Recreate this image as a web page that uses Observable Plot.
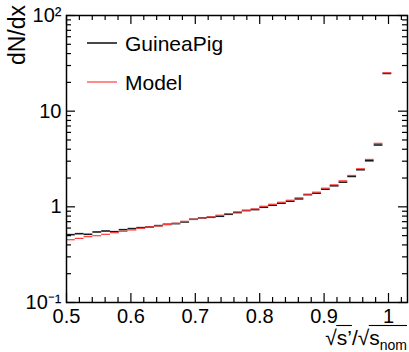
<!DOCTYPE html>
<html><head><meta charset="utf-8">
<script src="https://cdn.jsdelivr.net/npm/d3@7"></script>
<script src="https://cdn.jsdelivr.net/npm/@observablehq/plot@0.6"></script>
<style>
body{margin:0;background:#fff;}
#chart{width:409px;height:352px;}
</style></head><body><div id="chart"></div>
<script>
// histogram binning (lower edge of first bin, bin width)
const binStart = 0.5;
const binWidth = 0.01365;
// dN/dx per bin
const guineaPig = [0.512, 0.524, 0.516, 0.546, 0.559, 0.550, 0.577, 0.592, 0.606, 0.616,
  0.636, 0.657, 0.668, 0.695, 0.741, 0.766, 0.778, 0.797, 0.836, 0.871,
  0.914, 0.936, 0.990, 1.039, 1.091, 1.145, 1.211, 1.345, 1.390, 1.53,
  1.659, 1.811, 2.078, 2.442, 3.03, 4.43, 24.8];
const model = [0.453, 0.468, 0.488, 0.499, 0.516, 0.537, 0.555, 0.573, 0.596, 0.616,
  0.631, 0.652, 0.673, 0.706, 0.741, 0.766, 0.784, 0.817, 0.850, 0.885,
  0.921, 0.951, 1.014, 1.064, 1.117, 1.172, 1.241, 1.334, 1.423, 1.567,
  1.698, 1.871, 2.128, 2.500, 3.13, 4.61, 25.2];
const seriesNames = ["GuineaPig", "Model"];
const seriesColors = ["#1a1a1a", "#ff3b3b"];
const xMajor = [0.5, 0.6, 0.7, 0.8, 0.9, 1.0];
const xTickLabels = ["0.5", "0.6", "0.7", "0.8", "0.9", "1"];
const xMinor = [0.52, 0.54, 0.56, 0.58, 0.62, 0.64, 0.66, 0.68, 0.72, 0.74, 0.76, 0.78,
  0.82, 0.84, 0.86, 0.88, 0.92, 0.94, 0.96, 0.98, 1.02];
const yMajor = [0.1, 1, 10, 100];
const yTickLabels = ["10⁻¹", "1", "10", "10²"];
const yMinor = [0.2, 0.3, 0.4, 0.5, 0.6, 0.7, 0.8, 0.9, 2, 3, 4, 5, 6, 7, 8, 9,
  20, 30, 40, 50, 60, 70, 80, 90];

const rows = (vals, name) => vals.map((v, i) => ({
  x1: binStart + i * binWidth, x2: binStart + (i + 1) * binWidth, y: v, series: name
}));

const W = 409, H = 352, mL = 66, mR = 2, mT = 15, mB = 50;
const fw = W - mL - mR, fh = H - mT - mB;
const font = "'Liberation Sans', Arial, Helvetica, sans-serif";

const plot = Plot.plot({
  width: W, height: H,
  marginLeft: mL, marginRight: mR, marginTop: mT, marginBottom: mB,
  style: {fontFamily: font, fontSize: "20px", background: "#fff", color: "#000", overflow: "visible"},
  x: {domain: [0.5, 1.0295], label: null},
  y: {type: "log", domain: [0.1, 100], label: null},
  marks: [
    Plot.ruleY(rows(guineaPig, seriesNames[0]), {y: "y", x1: "x1", x2: "x2", stroke: seriesColors[0], strokeWidth: 1.6}),
    Plot.ruleY(rows(model, seriesNames[1]), {y: "y", x1: "x1", x2: "x2", stroke: seriesColors[1], strokeWidth: 1.2}),
    // inward ticks (bottom, top, left, right)
    Plot.tickX(xMajor, {x: d => d, insetTop: fh - 9, stroke: "#000", strokeWidth: 1.2}),
    Plot.tickX(xMinor, {x: d => d, insetTop: fh - 5, stroke: "#000", strokeWidth: 1.2}),
    Plot.tickX(xMajor, {x: d => d, insetBottom: fh - 9, stroke: "#000", strokeWidth: 1.2}),
    Plot.tickX(xMinor, {x: d => d, insetBottom: fh - 5, stroke: "#000", strokeWidth: 1.2}),
    Plot.tickY(yMajor, {y: d => d, insetRight: fw - 9, stroke: "#000", strokeWidth: 1.2}),
    Plot.tickY(yMinor, {y: d => d, insetRight: fw - 5, stroke: "#000", strokeWidth: 1.2}),
    Plot.tickY(yMajor, {y: d => d, insetLeft: fw - 9, stroke: "#000", strokeWidth: 1.2}),
    Plot.tickY(yMinor, {y: d => d, insetLeft: fw - 5, stroke: "#000", strokeWidth: 1.2}),
    Plot.axisX(xMajor, {tickSize: 0, tickPadding: 6, fontSize: 20,
      tickFormat: d => xTickLabels[xMajor.indexOf(d)]}),
    Plot.axisY(yMajor, {tickSize: 0, tickPadding: 5, fontSize: 20,
      tickFormat: d => yTickLabels[yMajor.indexOf(d)]}),
    Plot.frame({stroke: "#000", strokeWidth: 1.5})
  ]
});

document.getElementById("chart").appendChild(plot);

const svg = d3.select(plot);

// Y-axis title
svg.append("text")
  .attr("transform", "translate(25,5) rotate(-90)")
  .attr("text-anchor", "end")
  .attr("font-family", font).attr("font-size", 23)
  .text("dN/dx");

// Legend
const leg = svg.append("g").attr("font-family", font).attr("font-size", 21).attr("text-anchor", "start");
seriesNames.forEach((name, i) => {
  const y = 43 + i * 39;
  leg.append("line").attr("x1", 87).attr("x2", 117).attr("y1", y).attr("y2", y)
    .attr("stroke", seriesColors[i]).attr("stroke-width", i === 0 ? 1.6 : 1.2);
  leg.append("text").attr("x", 125).attr("y", y + 7.5).text(name);
});

// X-axis title: √s'/√s_nom, right-aligned at the frame edge
const xt = svg.append("g").attr("font-family", font).attr("fill", "#000").attr("text-anchor", "start");
const parts = [
  {t: "√", size: 21},
  {t: "s’", size: 21, over: true},
  {t: "/", size: 21},
  {t: "√", size: 21},
  {t: "s", size: 21, over: true},
  {t: "nom", size: 14, over: true, dy: 5}
];
const base = 345;
const els = parts.map(p => {
  const el = xt.append("text").attr("font-size", p.size).attr("y", base + (p.dy || 0)).text(p.t);
  return {p, el, w: el.node().getComputedTextLength()};
});
const total = els.reduce((a, e) => a + e.w, 0);
let cx = W - 2 - total;
const topY = base - 19.5;
els.forEach(({p, el, w}) => {
  el.attr("x", cx);
  if (p.over) {
    xt.append("line").attr("x1", cx - 0.5).attr("x2", cx + w).attr("y1", topY).attr("y2", topY)
      .attr("stroke", "#000").attr("stroke-width", 1.1);
  }
  cx += w;
});
</script>
</body></html>
